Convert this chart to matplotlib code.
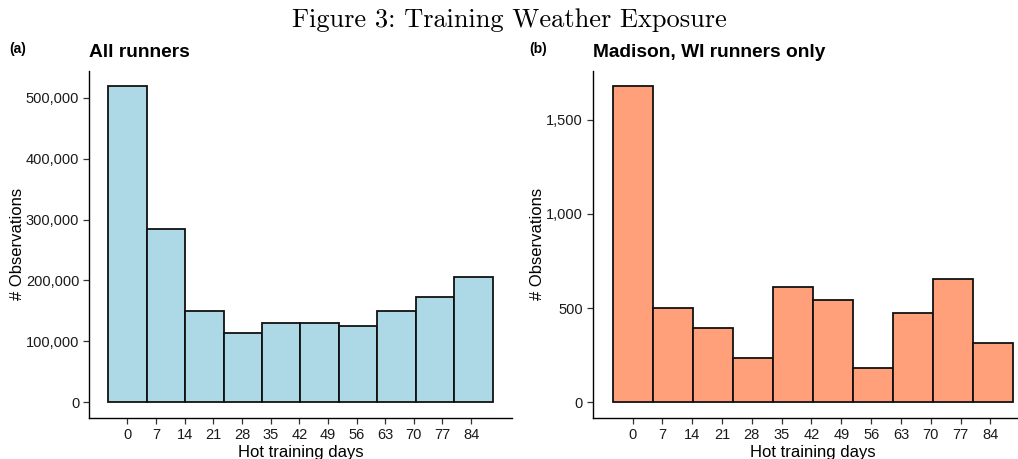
import matplotlib
matplotlib.use("Agg")
import matplotlib.pyplot as plt
from matplotlib.ticker import FuncFormatter
import numpy as np

# -------------------------------------------------------------
# Hot training day histograms (10 bins, counts per bin)
# -------------------------------------------------------------
bin_edges = [-4.7, 4.7, 14.1, 23.5, 32.9, 42.3, 51.7, 61.1, 70.5, 79.9, 89.3]

all_counts = [518600, 285200, 149700, 114200, 130600,
              129500, 125100, 149700, 173200, 204900]

madison_counts = [1677, 498, 394, 237, 613,
                  544, 180, 472, 654, 315]

x_ticks = [0, 7, 14, 21, 28, 35, 42, 49, 56, 63, 70, 77, 84]

plt.rcParams['font.family'] = ['Liberation Sans', 'DejaVu Sans']

fig = plt.figure(figsize=(10.18, 4.59), dpi=100)
W, H = 1018, 459


def px_axes(left, right, top, bottom):
    return fig.add_axes([left / W, 1 - bottom / H, (right - left) / W, (bottom - top) / H])


def draw_hist(ax, counts, color, yticks):
    edges = np.array(bin_edges)
    widths = np.diff(edges)
    ax.bar(edges[:-1], counts, width=widths, align='edge',
           color=color, edgecolor='#111111', linewidth=1.3)
    span = edges[-1] - edges[0]
    ax.set_xlim(edges[0] - 0.05 * span, edges[-1] + 0.05 * span)
    top = max(counts)
    ax.set_ylim(-0.05 * top, 1.05 * top)
    ax.set_xticks(x_ticks)
    ax.set_yticks(yticks)
    ax.yaxis.set_major_formatter(FuncFormatter(lambda v, p: f"{int(v):,}"))
    for s in ['top', 'right']:
        ax.spines[s].set_visible(False)
    for s in ['left', 'bottom']:
        ax.spines[s].set_linewidth(1.0)
        ax.spines[s].set_color('black')
    ax.tick_params(axis='both', length=4, width=0.9, color='#333333',
                   labelsize=10.5, labelcolor='#1a1a1a', pad=3)
    ax.set_xlabel('Hot training days', fontsize=12, labelpad=2)
    ax.set_ylabel('# Observations', fontsize=12, labelpad=1)


ax1 = px_axes(89, 512, 70.7, 418)
draw_hist(ax1, all_counts, '#ADD8E6', [0, 100000, 200000, 300000, 400000, 500000])

# right panel runs past the figure edge
ax2 = px_axes(592.5, 1033, 70.7, 418)
draw_hist(ax2, madison_counts, '#FFA07A', [0, 500, 1000, 1500])

fig.text(89 / W, 1 - 57 / H, 'All runners', fontsize=13.8, fontweight='bold',
         ha='left', va='baseline')
fig.text(593 / W, 1 - 57 / H, 'Madison, WI runners only', fontsize=13.8,
         fontweight='bold', ha='left', va='baseline')
fig.text(9 / W, 1 - 53 / H, '(a)', fontsize=10, fontweight='bold',
         ha='left', va='baseline')
fig.text(529 / W, 1 - 53 / H, '(b)', fontsize=10, fontweight='bold',
         ha='left', va='baseline')

fig.text(0.5, 1 - 27 / H, 'Figure 3: Training Weather Exposure', family='cmr10',
         fontsize=19, ha='center', va='baseline')

fig.savefig('out.png', dpi=100)
